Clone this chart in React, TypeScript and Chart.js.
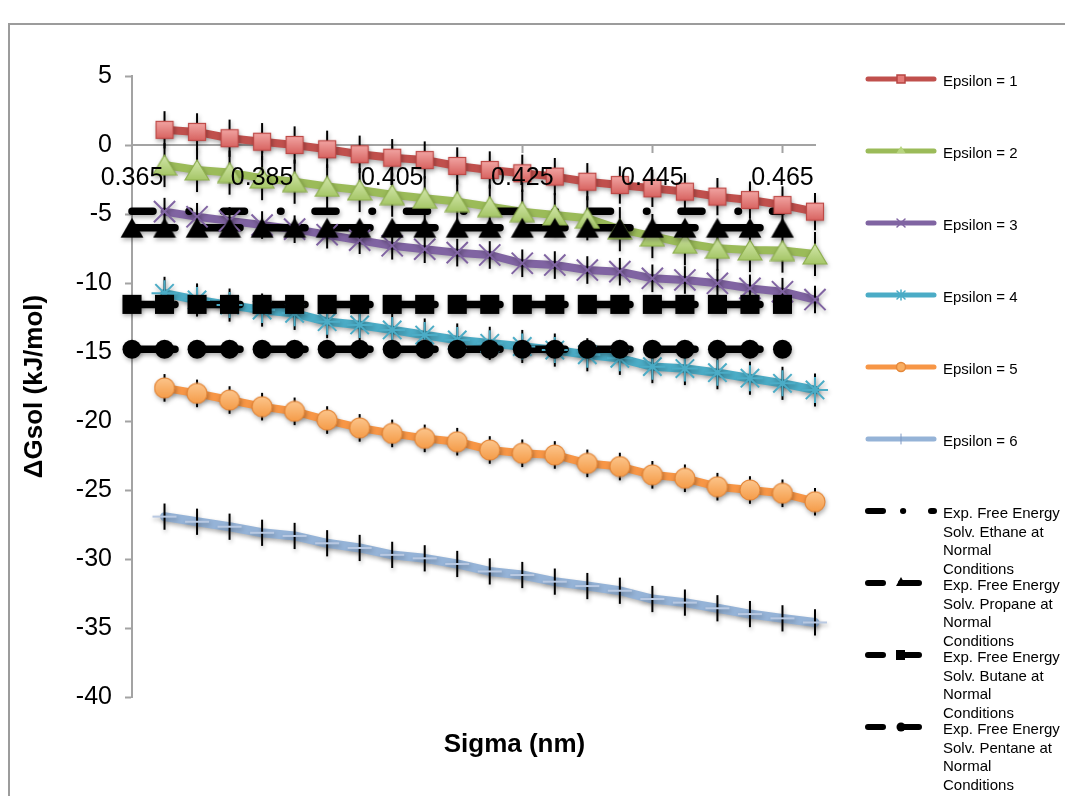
import React, { useEffect, useRef } from 'react';
import { Chart, registerables } from 'chart.js';

Chart.register(...registerables);

// Sigma (nm) categories along the horizontal axis
const sigmaLabels = [
  '0.365', '0.37', '0.375', '0.38', '0.385', '0.39', '0.395', '0.4', '0.405', '0.41', '0.415',
  '0.42', '0.425', '0.43', '0.435', '0.44', '0.445', '0.45', '0.455', '0.46', '0.465', '0.47',
];

// Simulated ΔGsol (kJ/mol), sigma = 0.37 … 0.47 nm
const epsilon1 = [1.1, 0.95, 0.49, 0.24, 0.0, -0.31, -0.67, -0.92, -1.09, -1.52, -1.81, -2.05, -2.29, -2.66, -2.9, -3.14, -3.38, -3.74, -3.99, -4.35, -4.83];
const epsilon2 = [-1.45, -1.81, -2.0, -2.4, -2.66, -3.0, -3.26, -3.6, -3.86, -4.1, -4.47, -4.83, -5.07, -5.31, -6.1, -6.6, -7.12, -7.49, -7.61, -7.65, -7.9];
const epsilon3 = [-4.83, -5.2, -5.5, -5.8, -6.1, -6.5, -6.9, -7.3, -7.55, -7.8, -7.97, -8.57, -8.7, -9.06, -9.18, -9.66, -9.78, -10.02, -10.39, -10.63, -11.2];
const epsilon4 = [-10.75, -11.23, -11.6, -11.96, -12.2, -12.8, -13.04, -13.4, -13.77, -14.13, -14.37, -14.6, -14.86, -15.2, -15.46, -16.06, -16.2, -16.5, -16.9, -17.27, -17.75];
const epsilon5 = [-17.6, -18.0, -18.48, -18.96, -19.3, -19.93, -20.5, -20.9, -21.26, -21.5, -22.1, -22.34, -22.46, -23.07, -23.3, -23.9, -24.15, -24.76, -25.0, -25.24, -25.85];
const epsilon6 = [-26.93, -27.3, -27.66, -28.1, -28.33, -28.86, -29.2, -29.7, -29.95, -30.36, -30.9, -31.16, -31.64, -31.96, -32.3, -32.9, -33.16, -33.57, -33.99, -34.3, -34.6];

// Standard deviation of each epsilon series (kJ/mol)
const epsilonErrors = [1.35, 1.6, 1.0, 1.2, 1.0, 0.95];

// Experimental free energies of solvation (kJ/mol), sigma = 0.365 … 0.465 nm
const expEthane = [-4.8, -4.8, -4.8, -4.8, -4.8, -4.8, -4.8, -4.8, -4.8, -4.8, -4.8, -4.8, -4.8, -4.8, -4.8, -4.8, -4.8, -4.8, -4.8, -4.8, -4.8];
const expPropane = [-6.0, -6.0, -6.0, -6.0, -6.0, -6.0, -6.0, -6.0, -6.0, -6.0, -6.0, -6.0, -6.0, -6.0, -6.0, -6.0, -6.0, -6.0, -6.0, -6.0, -6.0];
const expButane = [-11.55, -11.55, -11.55, -11.55, -11.55, -11.55, -11.55, -11.55, -11.55, -11.55, -11.55, -11.55, -11.55, -11.55, -11.55, -11.55, -11.55, -11.55, -11.55, -11.55, -11.55];
const expPentane = [-14.8, -14.8, -14.8, -14.8, -14.8, -14.8, -14.8, -14.8, -14.8, -14.8, -14.8, -14.8, -14.8, -14.8, -14.8, -14.8, -14.8, -14.8, -14.8, -14.8, -14.8];

const yMin = -40;
const yMax = 5;
const yStep = 5;

const FONT = "'Liberation Sans', Arial, Helvetica, sans-serif";
const AXIS_GRAY = '#a3a3a3';

type EpsSeries = { label: string; values: number[]; color: string; width: number; marker: string };
type ExpSeries = { lines: string[]; values: number[]; dash: number[]; marker: string | null };

const epsilonSeries: EpsSeries[] = [
  { label: 'Epsilon = 1', values: epsilon1, color: '#C0504D', width: 8, marker: 'square' },
  { label: 'Epsilon = 2', values: epsilon2, color: '#9BBB59', width: 8, marker: 'triangle' },
  { label: 'Epsilon = 3', values: epsilon3, color: '#8064A2', width: 8, marker: 'x' },
  { label: 'Epsilon = 4', values: epsilon4, color: '#4BACC6', width: 8.5, marker: 'star' },
  { label: 'Epsilon = 5', values: epsilon5, color: '#F79646', width: 8, marker: 'circle' },
  { label: 'Epsilon = 6', values: epsilon6, color: '#95B3D7', width: 9, marker: 'plus' },
];

const longDash = [43, 22];
const expSeries: ExpSeries[] = [
  { lines: ['Exp. Free Energy', 'Solv. Ethane at', 'Normal', 'Conditions'], values: expEthane, dash: [21, 36, 0.5, 34], marker: null },
  { lines: ['Exp. Free Energy', 'Solv. Propane at', 'Normal', 'Conditions'], values: expPropane, dash: longDash, marker: 'triangle' },
  { lines: ['Exp. Free Energy', 'Solv. Butane at', 'Normal', 'Conditions'], values: expButane, dash: longDash, marker: 'square' },
  { lines: ['Exp. Free Energy', 'Solv. Pentane at', 'Normal', 'Conditions'], values: expPentane, dash: longDash, marker: 'circle' },
];

function makeCanvas(w: number, h: number, paint: (c: CanvasRenderingContext2D) => void) {
  const cv = document.createElement('canvas');
  cv.width = w;
  cv.height = h;
  paint(cv.getContext('2d') as CanvasRenderingContext2D);
  return cv;
}

function gradient(c: CanvasRenderingContext2D, h: number, top: string, bottom: string) {
  const g = c.createLinearGradient(0, 0, 0, h);
  g.addColorStop(0, top);
  g.addColorStop(1, bottom);
  return g;
}

function buildMarkers() {
  const redSquare = makeCanvas(20, 20, (c) => {
    c.fillStyle = gradient(c, 20, '#F3A9A7', '#D65E5B');
    c.fillRect(1, 1, 18, 18);
    c.strokeStyle = '#BE4A47';
    c.lineWidth = 1.2;
    c.strokeRect(1.5, 1.5, 17, 17);
  });
  const greenTriangle = makeCanvas(26, 22, (c) => {
    c.beginPath();
    c.moveTo(13, 1);
    c.lineTo(25, 21);
    c.lineTo(1, 21);
    c.closePath();
    c.fillStyle = gradient(c, 22, '#D5E8AE', '#A3C564');
    c.fill();
    c.strokeStyle = '#8EAF4F';
    c.lineWidth = 1.2;
    c.stroke();
  });
  const orangeCircle = makeCanvas(22, 22, (c) => {
    c.beginPath();
    c.arc(11, 11, 10, 0, Math.PI * 2);
    c.fillStyle = gradient(c, 22, '#FCC78F', '#F59A45');
    c.fill();
    c.strokeStyle = '#E5883A';
    c.lineWidth = 1.2;
    c.stroke();
  });
  const blackTriangle = makeCanvas(24, 21, (c) => {
    c.beginPath();
    c.moveTo(12, 0.5);
    c.lineTo(23.5, 20.5);
    c.lineTo(0.5, 20.5);
    c.closePath();
    c.fillStyle = '#000';
    c.fill();
  });
  return { redSquare, greenTriangle, orangeCircle, blackTriangle };
}

function drawErrorBars(chart: any) {
  const ctx = chart.ctx;
  const xs = chart.scales.x;
  const ys = chart.scales.y;
  ctx.save();
  ctx.strokeStyle = '#000';
  ctx.lineWidth = 2;
  ctx.lineCap = 'butt';
  epsilonSeries.forEach((s, i) => {
    const err = epsilonErrors[i];
    s.values.forEach((v, j) => {
      const x = xs.getPixelForValue(j + 1);
      ctx.beginPath();
      ctx.moveTo(x, ys.getPixelForValue(v + err));
      ctx.lineTo(x, ys.getPixelForValue(v - err));
      ctx.stroke();
    });
  });
  ctx.restore();
}

const effectsPlugin = {
  id: 'effects',
  beforeDraw(chart: any) {
    const ctx = chart.ctx;
    ctx.save();
    ctx.fillStyle = '#fff';
    ctx.fillRect(0, 0, chart.width, chart.height);
    ctx.strokeStyle = '#9c9c9c';
    ctx.lineWidth = 2;
    ctx.beginPath();
    ctx.moveTo(9, chart.height);
    ctx.lineTo(9, 24);
    ctx.lineTo(chart.width, 24);
    ctx.stroke();
    ctx.restore();
  },
  beforeDatasetsDraw(chart: any) {
    const ctx = chart.ctx;
    ctx.save();
    ctx.shadowColor = 'rgba(0,0,0,0.3)';
    ctx.shadowBlur = 4;
    ctx.shadowOffsetX = 1;
    ctx.shadowOffsetY = 2.5;
    chart.$errorBarsDone = false;
  },
  beforeDatasetDraw(chart: any, args: any) {
    const ds = chart.data.datasets[args.index];
    if (ds.markerLayer && !chart.$errorBarsDone) {
      drawErrorBars(chart);
      chart.$errorBarsDone = true;
    }
  },
  afterDatasetsDraw(chart: any) {
    chart.ctx.restore();
  },
  afterDraw(chart: any) {
    const ctx = chart.ctx;
    const ca = chart.chartArea;
    ctx.save();
    // Horizontal axis title
    ctx.fillStyle = '#000';
    ctx.font = `bold 26px ${FONT}`;
    ctx.textAlign = 'center';
    ctx.textBaseline = 'middle';
    ctx.fillText('Sigma (nm)', (ca.left + ca.right) / 2 + 41, ca.bottom + 48);

    // Legend on the right
    const x0 = 868;
    const x1 = 934;
    const mid = 901;
    const textX = 943;
    const top = 79;
    const step = 72;
    ctx.textAlign = 'left';
    ctx.font = `15px ${FONT}`;
    ctx.lineCap = 'round';
    epsilonSeries.forEach((s, i) => {
      const y = top + i * step;
      ctx.strokeStyle = s.color;
      ctx.lineWidth = 5;
      ctx.beginPath();
      ctx.moveTo(x0, y);
      ctx.lineTo(x1, y);
      ctx.stroke();
      ctx.lineWidth = 1.5;
      if (s.marker === 'square') {
        ctx.fillStyle = '#E47C79';
        ctx.fillRect(mid - 4, y - 4, 8, 8);
        ctx.strokeStyle = '#B84643';
        ctx.strokeRect(mid - 4, y - 4, 8, 8);
      } else if (s.marker === 'triangle') {
        ctx.fillStyle = '#B7D57F';
        ctx.beginPath();
        ctx.moveTo(mid, y - 5);
        ctx.lineTo(mid + 4.5, y + 2);
        ctx.lineTo(mid - 4.5, y + 2);
        ctx.closePath();
        ctx.fill();
      } else if (s.marker === 'x' || s.marker === 'star') {
        ctx.strokeStyle = s.color;
        ctx.beginPath();
        ctx.moveTo(mid - 4, y - 4);
        ctx.lineTo(mid + 4, y + 4);
        ctx.moveTo(mid + 4, y - 4);
        ctx.lineTo(mid - 4, y + 4);
        if (s.marker === 'star') {
          ctx.moveTo(mid, y - 5);
          ctx.lineTo(mid, y + 5);
        }
        ctx.stroke();
      } else if (s.marker === 'circle') {
        ctx.fillStyle = '#F9AE62';
        ctx.strokeStyle = '#E5883A';
        ctx.beginPath();
        ctx.arc(mid, y, 4.5, 0, Math.PI * 2);
        ctx.fill();
        ctx.stroke();
      } else {
        ctx.strokeStyle = '#7e99c4';
        ctx.lineWidth = 1;
        ctx.beginPath();
        ctx.moveTo(mid, y - 5);
        ctx.lineTo(mid, y + 5);
        ctx.stroke();
      }
      ctx.fillStyle = '#000';
      ctx.fillText(s.label, textX, y + 3);
    });
    expSeries.forEach((s, k) => {
      const y = top + (k + epsilonSeries.length) * step;
      ctx.strokeStyle = '#000';
      ctx.fillStyle = '#000';
      ctx.lineWidth = 6;
      ctx.beginPath();
      ctx.moveTo(x0, y);
      ctx.lineTo(883, y);
      if (s.marker === null) {
        ctx.moveTo(903, y);
        ctx.lineTo(903.2, y);
        ctx.moveTo(931, y);
        ctx.lineTo(934, y);
      } else {
        ctx.moveTo(901, y);
        ctx.lineTo(919, y);
      }
      ctx.stroke();
      if (s.marker === 'triangle') {
        ctx.beginPath();
        ctx.moveTo(901, y - 6);
        ctx.lineTo(906, y + 3);
        ctx.lineTo(896, y + 3);
        ctx.closePath();
        ctx.fill();
      } else if (s.marker === 'square') {
        ctx.fillRect(896, y - 5, 9, 10);
      } else if (s.marker === 'circle') {
        ctx.beginPath();
        ctx.arc(901, y, 4.5, 0, Math.PI * 2);
        ctx.fill();
      }
      s.lines.forEach((t, n) => ctx.fillText(t, textX, y + 3 + n * 18.5));
    });
    ctx.restore();
  },
};

export default function App() {
  const canvasRef = useRef<HTMLCanvasElement | null>(null);

  useEffect(() => {
    const canvas = canvasRef.current;
    if (!canvas) return;
    const m = buildMarkers();

    const epsMarkerStyle: Record<string, any> = {
      square: { pointStyle: m.redSquare, pointRadius: 10 },
      triangle: { pointStyle: m.greenTriangle, pointRadius: 11 },
      x: { pointStyle: 'crossRot', pointRadius: 15, pointBorderWidth: 2 },
      star: { pointStyle: 'star', pointRadius: 13, pointBorderWidth: 2 },
      circle: { pointStyle: m.orangeCircle, pointRadius: 11 },
      plus: { pointStyle: 'line', pointRadius: 12, pointBorderWidth: 2 },
    };
    const expMarkerStyle: Record<string, any> = {
      triangle: { pointStyle: m.blackTriangle, pointRadius: 11 },
      square: { pointStyle: 'rect', pointRadius: 13.5 },
      circle: { pointStyle: 'circle', pointRadius: 9.5 },
    };

    const epsData = (v: number[]) => [null, ...v];
    const expData = (v: number[]) => [...v, null];

    const datasets: any[] = [];
    // Experimental markers (top layer)
    expSeries.forEach((s) => {
      if (!s.marker) return;
      datasets.push({
        label: s.lines.join(' '),
        data: expData(s.values),
        showLine: false,
        markerLayer: true,
        order: 0,
        clip: false,
        pointBackgroundColor: '#000',
        pointBorderColor: '#000',
        pointBorderWidth: 0,
        ...expMarkerStyle[s.marker],
      });
    });
    // Epsilon markers
    epsilonSeries.forEach((s) => {
      const lighter = s.marker === 'plus' ? '#b9c9e2' : s.color;
      datasets.push({
        label: s.label,
        data: epsData(s.values),
        showLine: false,
        markerLayer: true,
        order: 1,
        clip: false,
        pointBackgroundColor: lighter,
        pointBorderColor: lighter,
        pointBorderWidth: 0,
        ...epsMarkerStyle[s.marker],
      });
    });
    // Experimental lines
    expSeries.forEach((s) => {
      datasets.push({
        label: s.lines.join(' '),
        data: expData(s.values),
        borderColor: '#000',
        borderWidth: 7.5,
        borderDash: s.dash,
        borderCapStyle: 'round',
        pointRadius: 0,
        order: 2,
        clip: false,
        spanGaps: false,
      });
    });
    // Epsilon lines (bottom layer)
    epsilonSeries.forEach((s) => {
      datasets.push({
        label: s.label,
        data: epsData(s.values),
        borderColor: s.color,
        borderWidth: s.width,
        borderCapStyle: 'round',
        borderJoinStyle: 'round',
        pointRadius: 0,
        order: 3,
        clip: false,
      });
    });

    const chart = new Chart(canvas, {
      type: 'line',
      data: { labels: sigmaLabels, datasets },
      options: {
        responsive: false,
        animation: false,
        events: [],
        layout: { padding: { left: 0, top: 76, right: 250, bottom: 99 } },
        plugins: {
          legend: { display: false },
          tooltip: { enabled: false },
        },
        scales: {
          x: {
            type: 'category',
            position: { y: 0 },
            offset: false,
            grid: {
              display: true,
              drawOnChartArea: false,
              drawTicks: true,
              tickLength: 7,
              tickWidth: 2,
              tickColor: (c: any) => (c.index % 4 === 0 && c.index > 0 ? AXIS_GRAY : 'rgba(0,0,0,0)'),
            },
            border: { display: true, color: AXIS_GRAY, width: 2 },
            ticks: {
              z: 1,
              autoSkip: false,
              maxRotation: 0,
              minRotation: 0,
              padding: 11,
              color: '#000',
              font: { size: 25, family: FONT },
              callback: (_v: any, i: number) => (i % 4 === 0 ? sigmaLabels[i] : ''),
            },
          },
          y: {
            min: yMin,
            max: yMax,
            ticks: {
              stepSize: yStep,
              padding: 13,
              color: '#000',
              font: { size: 25, family: FONT },
            },
            grid: {
              drawOnChartArea: false,
              drawTicks: true,
              tickLength: 7,
              tickWidth: 2,
              tickColor: AXIS_GRAY,
            },
            border: { display: true, color: AXIS_GRAY, width: 2 },
            title: {
              display: true,
              text: 'ΔGsol (kJ/mol)',
              color: '#000',
              font: { size: 26, weight: 'bold', family: FONT },
              padding: { top: 19, bottom: 0 },
            },
            afterFit: (scale: any) => {
              scale.width = 132;
            },
          },
        },
      },
      plugins: [effectsPlugin],
    } as any);

    return () => chart.destroy();
  }, []);

  return (
    <div style={{ position: 'fixed', left: 0, top: 0, width: 1065, height: 796, background: '#fff' }}>
      <canvas ref={canvasRef} width={1065} height={796} style={{ display: 'block', width: 1065, height: 796 }} />
    </div>
  );
}
